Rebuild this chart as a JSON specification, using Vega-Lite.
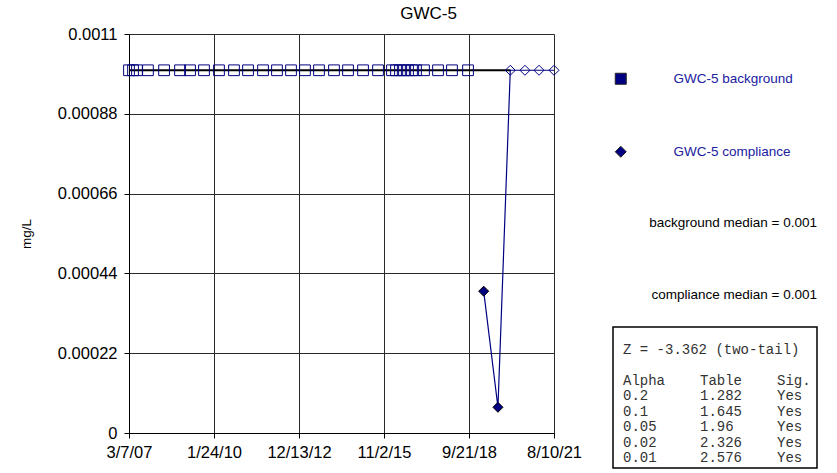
{
  "$schema": "https://vega.github.io/schema/vega-lite/v6.json",
  "autosize": {"type": "pad"},
  "padding": {"left": 19, "top": 5, "right": 0, "bottom": 0},
  "background": "white",
  "config": {
    "font": "Liberation Sans",
    "view": {"stroke": null},
    "concat": {"spacing": 59},
    "axis": {"labelFont": "Liberation Sans", "titleFont": "Liberation Sans", "labelColor": "#000", "titleColor": "#000"}
  },
  "bounds": "flush",
  "datasets": {
    "background": [
      {"date": "2007-03-07", "value": 0.001}, {"date": "2007-04-26", "value": 0.001},
      {"date": "2007-06-14", "value": 0.001}, {"date": "2007-10-28", "value": 0.001},
      {"date": "2008-05-15", "value": 0.001}, {"date": "2008-11-29", "value": 0.001},
      {"date": "2009-04-02", "value": 0.001}, {"date": "2009-09-22", "value": 0.001},
      {"date": "2010-03-27", "value": 0.001}, {"date": "2010-09-29", "value": 0.001},
      {"date": "2011-03-22", "value": 0.001}, {"date": "2011-09-24", "value": 0.001},
      {"date": "2012-03-15", "value": 0.001}, {"date": "2012-09-05", "value": 0.001},
      {"date": "2013-02-25", "value": 0.001}, {"date": "2013-08-18", "value": 0.001},
      {"date": "2014-02-20", "value": 0.001}, {"date": "2014-08-13", "value": 0.001},
      {"date": "2015-02-15", "value": 0.001}, {"date": "2015-08-20", "value": 0.001},
      {"date": "2016-02-09", "value": 0.001}, {"date": "2016-03-30", "value": 0.001},
      {"date": "2016-05-18", "value": 0.001}, {"date": "2016-07-07", "value": 0.001},
      {"date": "2016-08-26", "value": 0.001}, {"date": "2016-10-14", "value": 0.001},
      {"date": "2016-12-03", "value": 0.001}, {"date": "2017-03-12", "value": 0.001},
      {"date": "2017-09-02", "value": 0.001}, {"date": "2018-02-22", "value": 0.001},
      {"date": "2018-09-09", "value": 0.001}
    ],
    "compliance": [
      {"date": "2019-03-22", "value": 0.000391, "detect": "yes"},
      {"date": "2019-09-15", "value": 0.0000709, "detect": "yes"},
      {"date": "2020-02-15", "value": 0.001, "detect": "no"},
      {"date": "2020-08-15", "value": 0.001, "detect": "no"},
      {"date": "2021-02-05", "value": 0.001, "detect": "no"},
      {"date": "2021-08-10", "value": 0.001, "detect": "no"}
    ],
    "refline": [
      {"start": "2007-03-07", "end": "2020-02-15", "value": 0.001}
    ],
    "legend": [
      {"series": "GWC-5 background"},
      {"series": "GWC-5 compliance"}
    ],
    "medians": [
      {"item": "bg", "label": "background median = 0.001"},
      {"item": "comp", "label": "compliance median = 0.001"}
    ],
    "stats": [
      {"line": 0, "col": "Alpha", "text": "Z = -3.362 (two-tail)"},
      {"line": 2, "col": "Alpha", "text": "Alpha"},
      {"line": 2, "col": "Table", "text": "Table"},
      {"line": 2, "col": "Sig", "text": "Sig."},
      {"line": 3, "col": "Alpha", "text": "0.2"},
      {"line": 3, "col": "Table", "text": "1.282"},
      {"line": 3, "col": "Sig", "text": "Yes"},
      {"line": 4, "col": "Alpha", "text": "0.1"},
      {"line": 4, "col": "Table", "text": "1.645"},
      {"line": 4, "col": "Sig", "text": "Yes"},
      {"line": 5, "col": "Alpha", "text": "0.05"},
      {"line": 5, "col": "Table", "text": "1.96"},
      {"line": 5, "col": "Sig", "text": "Yes"},
      {"line": 6, "col": "Alpha", "text": "0.02"},
      {"line": 6, "col": "Table", "text": "2.326"},
      {"line": 6, "col": "Sig", "text": "Yes"},
      {"line": 7, "col": "Alpha", "text": "0.01"},
      {"line": 7, "col": "Table", "text": "2.576"},
      {"line": 7, "col": "Sig", "text": "Yes"}
    ]
  },
  "hconcat": [
    {
      "width": 425,
      "height": 399,
      "title": {"text": "GWC-5", "fontSize": 17, "fontWeight": "normal", "font": "Liberation Sans", "anchor": "middle", "offset": 3, "dx": 87},
      "layer": [
        {
          "data": {"name": "refline"},
          "mark": {"type": "rule", "color": "#000", "strokeWidth": 2},
          "encoding": {
            "x": {"field": "start", "type": "temporal"},
            "x2": {"field": "end"},
            "y": {"field": "value", "type": "quantitative"}
          }
        },
        {
          "data": {"name": "background"},
          "mark": {"type": "point", "shape": "square", "size": 115, "filled": false, "stroke": "#000080", "strokeWidth": 1, "opacity": 1},
          "encoding": {
            "x": {
              "field": "date", "type": "temporal", "title": null,
              "scale": {"type": "utc", "domain": [{"year": 2007, "month": 3, "date": 7, "utc": true}, {"year": 2021, "month": 8, "date": 10, "utc": true}]},
              "axis": {
                "values": [
                  {"year": 2007, "month": 3, "date": 7, "utc": true},
                  {"year": 2010, "month": 1, "date": 24, "utc": true},
                  {"year": 2012, "month": 12, "date": 13, "utc": true},
                  {"year": 2015, "month": 11, "date": 2, "utc": true},
                  {"year": 2018, "month": 9, "date": 21, "utc": true},
                  {"year": 2021, "month": 8, "date": 10, "utc": true}
                ],
                "labelExpr": "utcFormat(datum.value, '%-m/%-d/%y')",
                "labelFontSize": 16.5, "labelPadding": 6, "tickSize": 5, "tickColor": "#000",
                "domainColor": "#000", "grid": true, "gridColor": "#2a2a2a", "gridOpacity": 1,
                "labelFlush": false, "labelOverlap": false
              }
            },
            "y": {
              "field": "value", "type": "quantitative",
              "title": "mg/L",
              "scale": {"domain": [0, 0.0011], "nice": false, "zero": true},
              "axis": {
                "values": [0, 0.00022, 0.00044, 0.00066, 0.00088, 0.0011],
                "labelExpr": "datum.value == 0 ? '0' : format(datum.value, '~g')",
                "labelFontSize": 16.5, "labelPadding": 7, "tickSize": 5, "tickColor": "#000",
                "domainColor": "#000", "grid": true, "gridColor": "#2a2a2a", "gridOpacity": 1,
                "titleFontSize": 13.5, "titleFontWeight": "normal", "titlePadding": 24
              }
            }
          }
        },
        {
          "data": {"name": "compliance"},
          "mark": {"type": "line", "color": "#000080", "strokeWidth": 1.2},
          "encoding": {
            "x": {"field": "date", "type": "temporal"},
            "y": {"field": "value", "type": "quantitative"}
          }
        },
        {
          "data": {"name": "compliance"},
          "mark": {"type": "point", "shape": "diamond", "size": 100, "strokeWidth": 1, "opacity": 1},
          "encoding": {
            "x": {"field": "date", "type": "temporal"},
            "y": {"field": "value", "type": "quantitative"},
            "fill": {"field": "detect", "type": "nominal", "scale": {"domain": ["yes", "no"], "range": ["#000080", "transparent"]}, "legend": null},
            "stroke": {"field": "detect", "type": "nominal", "scale": {"domain": ["yes", "no"], "range": ["#000", "#000080"]}, "legend": null}
          }
        },
        {
          "data": {"name": "legend"},
          "mark": {"type": "point", "size": 0, "opacity": 0, "filled": true},
          "encoding": {
            "color": {
              "field": "series", "type": "nominal",
              "scale": {"domain": ["GWC-5 background", "GWC-5 compliance"], "range": ["#000080", "#000080"]},
              "legend": {
                "title": null, "orient": "none", "legendX": 485, "legendY": 38,
                "symbolSize": 121, "symbolStrokeColor": "#222", "symbolStrokeWidth": 1, "symbolOpacity": 1,
                "labelColor": "#2020a0", "labelFontSize": 13.5, "labelFont": "Liberation Sans",
                "labelOffset": 46, "rowPadding": 57, "padding": 0,
                "encode": {
                  "symbols": {"update": {"stroke": {"value": "#222"}, "strokeWidth": {"value": 1}, "opacity": {"value": 1}}}
                }
              }
            },
            "shape": {
              "field": "series", "type": "nominal",
              "scale": {"domain": ["GWC-5 background", "GWC-5 compliance"], "range": ["square", "diamond"]}
            }
          }
        }
      ]
    },
    {
      "spacing": 13,
      "bounds": "flush",
      "vconcat": [
        {
          "width": 204,
          "height": 280,
          "data": {"name": "medians"},
          "mark": {"type": "text", "align": "right", "baseline": "middle", "fontSize": 13.5, "font": "Liberation Sans", "color": "#000", "x": "width"},
          "encoding": {
            "y": {"field": "item", "type": "ordinal", "scale": {"type": "point", "domain": ["bg", "comp"], "range": [189, 261], "padding": 0}, "axis": null},
            "text": {"field": "label"}
          }
        },
        {
          "width": 204,
          "height": 141,
          "view": {"stroke": "#000", "strokeWidth": 1.5},
          "data": {"name": "stats"},
          "mark": {"type": "text", "align": "left", "baseline": "middle", "fontSize": 14, "font": "Liberation Mono", "color": "#333"},
          "encoding": {
            "x": {"field": "col", "type": "ordinal", "scale": {"type": "point", "domain": ["Alpha", "Table", "Sig"], "range": [10, 164], "padding": 0}, "axis": null},
            "y": {"field": "line", "type": "quantitative", "scale": {"domain": [0, 7], "range": [23, 131]}, "axis": null},
            "text": {"field": "text"}
          }
        }
      ]
    }
  ]
}
